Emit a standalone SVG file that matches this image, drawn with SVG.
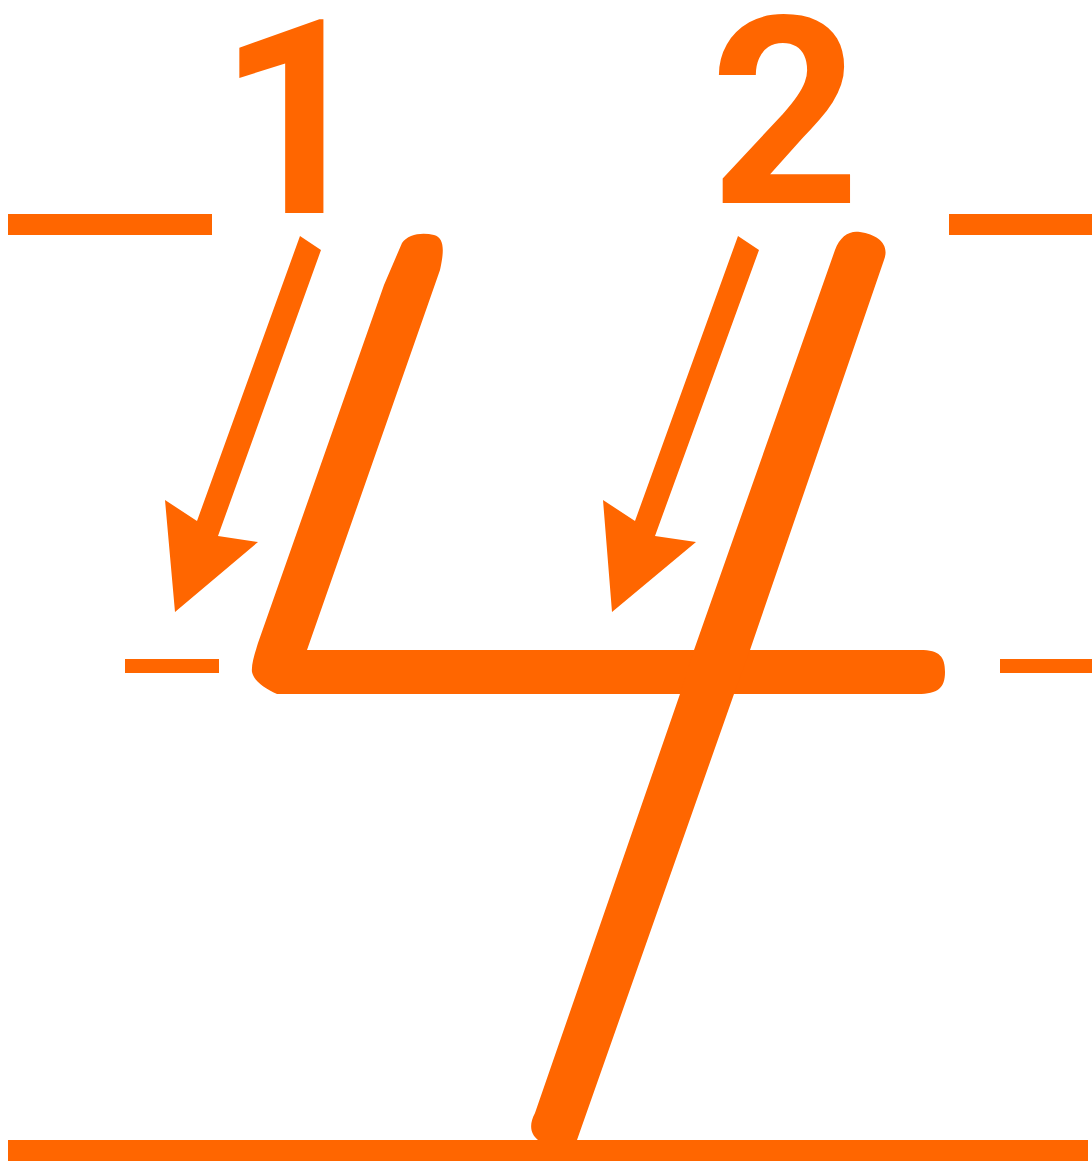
<svg xmlns="http://www.w3.org/2000/svg" width="1092" height="1164" viewBox="0 0 1092 1164">
<style>
.o{fill:#FF6600}
.num{font-family:Roboto,"Liberation Sans",sans-serif;font-weight:bold;fill:#FF6600;text-anchor:middle}
</style>
<rect width="1092" height="1164" fill="#fff"/>
<g id="guides">
<rect class="o" x="8" y="214" width="204" height="21"/>
<rect class="o" x="949" y="214" width="143" height="21"/>
<rect class="o" x="125" y="659" width="94" height="14"/>
<rect class="o" x="1000" y="659" width="92" height="14"/>
<rect class="o" x="8" y="1140" width="1080" height="21"/>
</g>
<g id="stroke1">
<path class="o" d="M402 243 C408 234 422 232 434 235 C445 238 444 252 440 270 L307 650 L920 650 C940 650 945 657 945 672 C945 688 938 694 918 694 L277 694 C264 688 254 681 252 672 C251 664 256 650 258 643 L384 285 Z"/>
</g>
<g id="stroke2">
<path class="o" d="M835 250 C840 236 850 230 860 232 C878 235 890 244 884 260 L750 650 L734 694 L577 1140 L538 1140 C530 1134 529 1124 535 1113 L680 694 L694 650 Z"/>
</g>
<g id="labels">
<text class="num" x="295" y="213" font-size="272">1</text>
<text class="num" x="785" y="203" font-size="262">2</text>
</g>
<g id="arrows">
<polygon class="o" points="300,236 321,250 218,536 258,542 175,612 165,500 197,521"/>
<polygon class="o" points="738,236 759,250 655,536 696,542 612,612 603,500 635,521"/>
</g>
</svg>
